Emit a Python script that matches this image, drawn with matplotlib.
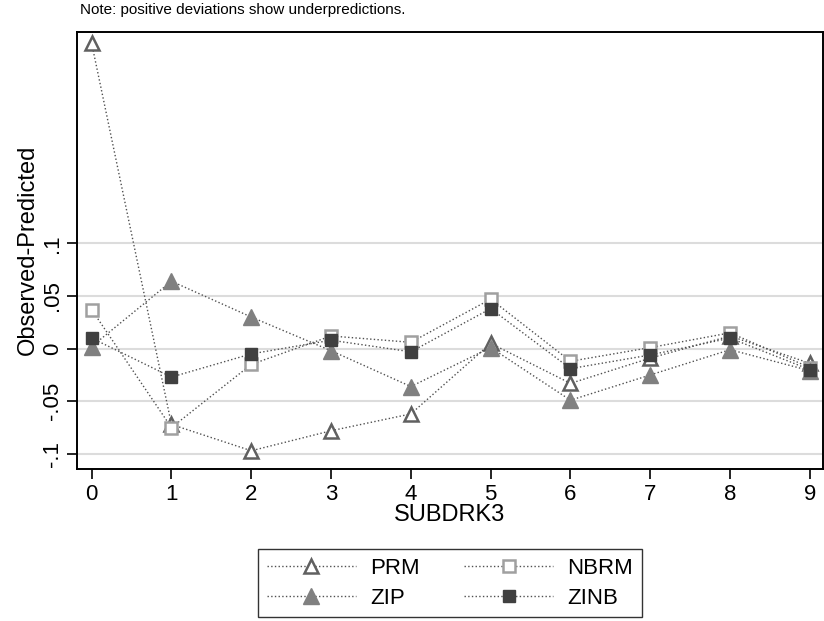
import matplotlib
matplotlib.use('Agg')
import matplotlib.pyplot as plt
import numpy as np

plt.rcParams['font.family'] = ['Liberation Sans', 'DejaVu Sans']

# data
counts = [0, 1, 2, 3, 4, 5, 6, 7, 8, 9]
prm = [0.290, -0.072, -0.097, -0.078, -0.062, 0.005, -0.033, -0.009, 0.012, -0.014]
nbrm = [0.037, -0.075, -0.015, 0.012, 0.006, 0.047, -0.012, 0.001, 0.015, -0.018]
zip_ = [0.002, 0.064, 0.030, -0.002, -0.036, 0.001, -0.049, -0.025, -0.001, -0.021]
zinb = [0.010, -0.027, -0.005, 0.008, -0.003, 0.038, -0.019, -0.006, 0.010, -0.020]

y_ticks = [-0.1, -0.05, 0, 0.05, 0.1]
y_tick_labels = ['-.1', '-.05', '0', '.05', '.1']

fig = plt.figure(figsize=(8.24, 6.21), dpi=100)
ax = fig.add_axes([0.0934, 0.2453, 0.905, 0.7037])

LINE_COLOR = '#505050'
line_kw = dict(linestyle=':', linewidth=1.0, color=LINE_COLOR)

ax.plot(counts, prm, marker='^', markersize=9.5, markerfacecolor='white',
        markeredgecolor='#606060', markeredgewidth=1.8, label='PRM', **line_kw)
ax.plot(counts, nbrm, marker='s', markersize=8.5, markerfacecolor='white',
        markeredgecolor='#a0a0a0', markeredgewidth=1.8, label='NBRM', **line_kw)
ax.plot(counts, zip_, marker='^', markersize=12, markerfacecolor='#808080',
        markeredgecolor='#808080', label='ZIP', **line_kw)
ax.plot(counts, zinb, marker='s', markersize=9, markerfacecolor='#404040',
        markeredgecolor='#404040', label='ZINB', **line_kw)

ax.set_xlim(-0.184, 9.16)
ax.set_ylim(-0.114, 0.301)
ax.set_xticks(counts)
ax.set_yticks(y_ticks)
ax.set_yticklabels(y_tick_labels, rotation=90, va='center')
for y in y_ticks:
    ax.axhline(y, color='#dcdcdc', linewidth=1.5, zorder=0)

ax.tick_params(axis='both', direction='out', length=7, width=1.2, labelsize=16)
ax.tick_params(axis='x', pad=4)
ax.tick_params(axis='y', pad=3)
for side in ax.spines.values():
    side.set_linewidth(1.4)
    side.set_color('black')

ax.set_xlabel('SUBDRK3', fontsize=17, labelpad=-1)
ax.set_ylabel('Observed-Predicted', fontsize=17, labelpad=2)

fig.text(0.097, 0.972, 'Note: positive deviations show underpredictions.',
         fontsize=11, ha='left', va='bottom')

handles, labels = ax.get_legend_handles_labels()
# matplotlib fills legend columns first
order = [0, 2, 1, 3]
leg = fig.legend([handles[i] for i in order], [labels[i] for i in order],
                 loc='center', bbox_to_anchor=(0.546, 0.061), ncol=2,
                 fontsize=16, frameon=True, fancybox=False, edgecolor='black',
                 handlelength=4.0, handletextpad=0.65, columnspacing=2.0,
                 borderpad=0.4, labelspacing=0.4, borderaxespad=0)
leg.get_frame().set_linewidth(1.0)

fig.savefig('out.png', dpi=100)
